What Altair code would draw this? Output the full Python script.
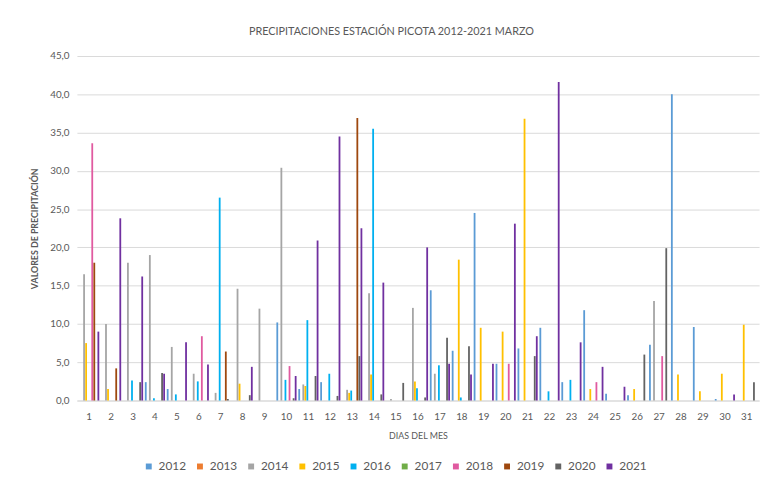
import altair as alt
import pandas as pd

days = list(range(1, 32))
years = ["2012", "2013", "2014", "2015", "2016", "2017", "2018", "2019", "2020", "2021"]
colors = ["#5B9BD5", "#ED7D31", "#A5A5A5", "#FFC000", "#00B0F0",
          "#70AD47", "#E05AA0", "#9E480E", "#636363", "#7030A0"]

# values per year, day 1..31
v2012 = [0, 0, 0, 2.4, 1.5, 0, 0, 0, 0, 10.2, 1.5, 2.4, 0, 0, 0, 0, 14.4, 6.5, 24.5, 4.8,
         6.8, 9.5, 2.4, 11.8, 0.9, 0.7, 7.3, 40.0, 9.6, 0.2, 0]
v2013 = [0] * 31
v2014 = [16.5, 10.0, 18.0, 19.0, 7.0, 3.5, 1.0, 14.6, 12.0, 30.4, 2.1, 0, 1.4, 14.0, 0.2, 12.1,
         3.5, 0, 0, 0, 0, 0, 0, 0, 0, 0, 13.0, 0, 0, 0, 0]
v2015 = [7.5, 1.5, 0, 0, 0, 0, 0, 2.2, 0, 0, 1.9, 0, 1.0, 3.4, 0, 2.5, 0, 18.4, 9.5, 9.0,
         36.8, 0, 0, 1.5, 0, 1.5, 0, 3.4, 1.2, 3.5, 9.9]
v2016 = [0, 0, 2.6, 0.3, 0.8, 2.5, 26.5, 0, 0, 2.7, 10.5, 3.5, 1.3, 35.5, 0, 1.6, 4.6, 0.4, 0, 0,
         0, 1.2, 2.7, 0, 0, 0, 0, 0, 0, 0, 0]
v2017 = [0] * 31
v2018 = [33.6, 0, 0, 0, 0, 8.4, 0, 0, 0, 4.5, 0, 0, 0, 0, 0, 0, 0, 0, 0, 4.8,
         0, 0, 0, 2.4, 0, 0, 5.8, 0, 0, 0, 0]
v2019 = [18.0, 4.2, 0, 0, 0, 0, 6.4, 0, 0, 0, 0, 0, 36.9, 0, 0, 0, 0, 0, 0, 0,
         0, 0, 0, 0, 0, 0, 0, 0, 0, 0, 0]
v2020 = [0, 0, 2.4, 3.6, 0, 0, 0.2, 0.7, 0, 0.3, 3.2, 0.6, 5.8, 0.8, 2.3, 0.4, 8.2, 7.1, 0, 0,
         5.8, 0, 0, 0, 0, 6.0, 19.9, 0, 0, 0, 2.4]
v2021 = [9.0, 23.8, 16.2, 3.5, 7.6, 4.7, 0, 4.4, 0, 3.2, 20.9, 34.5, 22.5, 15.4, 0, 20.0, 4.8, 3.4, 4.8, 23.1,
         8.4, 41.6, 7.6, 4.4, 1.8, 0, 0, 0, 0, 0.8, 0]

series = [v2012, v2013, v2014, v2015, v2016, v2017, v2018, v2019, v2020, v2021]
rows = []
for y, vals in zip(years, series):
    for d, v in zip(days, vals):
        rows.append({"dia": d, "anio": y, "valor": v})
df = pd.DataFrame(rows)

FONT = "Lato"
TXT = "#595959"

chart = alt.Chart(df).mark_bar().encode(
    x=alt.X("dia:O", title="DIAS  DEL MES",
            scale=alt.Scale(paddingInner=0.08, paddingOuter=0.1),
            axis=alt.Axis(labelAngle=0, ticks=False, domainColor="#D9D9D9",
                          labelColor=TXT, labelFontSize=10, labelFont=FONT, labelPadding=11,
                          titleFont=FONT, titleFontSize=9, titleColor=TXT,
                          titleFontWeight="normal", titlePadding=11)),
    xOffset=alt.XOffset("anio:N", scale=alt.Scale(paddingInner=0.12)),
    y=alt.Y("valor:Q", title="VALORES DE PRECIPITACIÓN",
            scale=alt.Scale(domain=[0, 45], nice=False),
            axis=alt.Axis(values=[0, 5, 10, 15, 20, 25, 30, 35, 40, 45],
                          labelExpr="replace(format(datum.value, '.1f'), '.', ',')",
                          ticks=False, domain=False, gridColor="#D9D9D9",
                          labelColor=TXT, labelFontSize=10, labelFont=FONT, labelPadding=8,
                          titleFont=FONT, titleFontSize=9, titleColor=TXT,
                          titleFontWeight="bold", titlePadding=10)),
    color=alt.Color("anio:N", title=None,
                    scale=alt.Scale(domain=years, range=colors),
                    legend=alt.Legend(orient="none", direction="horizontal", columns=10,
                                      legendX=67, legendY=411, symbolType="square",
                                      symbolSize=36, symbolStrokeWidth=0,
                                      labelFontSize=12, labelFont=FONT, labelColor=TXT,
                                      labelOffset=4, columnPadding=8)),
).properties(
    width=693, height=350,
    title=alt.TitleParams("PRECIPITACIONES ESTACIÓN PICOTA 2012-2021 MARZO",
                          font=FONT, fontSize=11, color=TXT, fontWeight="normal",
                          anchor="middle", dx=-27, offset=14),
    padding={"left": 23, "top": 15, "right": 5, "bottom": 5},
).configure_view(stroke=None)

chart.save("out.html", embed_options={"renderer": "svg", "actions": False})
